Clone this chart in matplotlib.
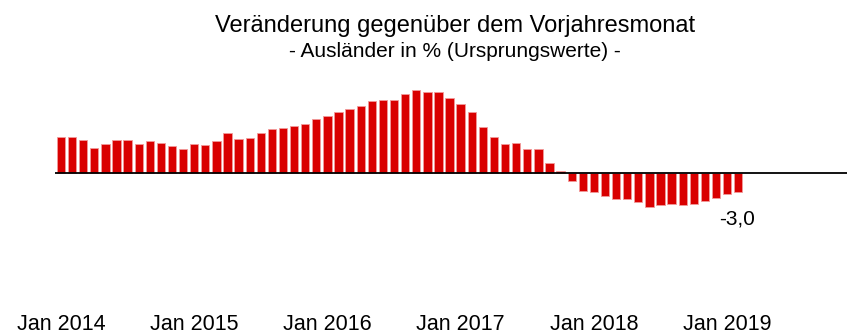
import numpy as np
import matplotlib
matplotlib.use("Agg")
import matplotlib.pyplot as plt

plt.rcParams["font.family"] = ["Liberation Sans", "DejaVu Sans"]

# Veränderung gegenüber Vorjahresmonat in %, Jan 2014 bis Feb 2019
werte_2014 = [5.8, 5.8, 5.3, 4.0, 4.7, 5.3, 5.3, 4.7, 5.1, 4.8, 4.4, 3.9]
werte_2015 = [4.7, 4.5, 5.1, 6.4, 5.5, 5.7, 6.5, 7.1, 7.2, 7.6, 7.9, 8.7]
werte_2016 = [9.2, 9.8, 10.3, 10.8, 11.6, 11.7, 11.8, 12.8, 13.4, 13.0, 13.0, 12.1]
werte_2017 = [11.1, 9.8, 7.5, 5.8, 4.7, 4.9, 3.9, 3.9, 1.7, 0.4, -1.3, -2.8]
werte_2018 = [-3.1, -3.6, -4.1, -4.1, -4.7, -5.5, -5.2, -5.0, -5.1, -4.9, -4.5, -4.0]
werte_2019 = [-3.3, -3.0]

werte = werte_2014 + werte_2015 + werte_2016 + werte_2017 + werte_2018 + werte_2019
tick_labels = ["Jan 2014", "Jan 2015", "Jan 2016", "Jan 2017", "Jan 2018", "Jan 2019"]

x = np.arange(len(werte))

fig = plt.figure(figsize=(8.47, 3.35), dpi=100)
ax = fig.add_axes([55 / 847, 35 / 335, 792 / 847, 240 / 335])

ax.bar(x, werte, width=0.75, color="#d90000", edgecolor="#f29a9a", linewidth=0.6)
ax.axhline(0, color="black", linewidth=1.3)

# letzter Wert beschriftet
ax.annotate(f"{werte[-1]:.1f}".replace(".", ","), xy=(x[-1], werte[-1]),
            xytext=(-1, -19.5), textcoords="offset points",
            ha="center", va="center", fontsize=15)

ax.set_xlim(-0.54, 70.8)
ax.set_ylim(-20.4, 18.2)
ax.set_xticks(x[::12])
ax.set_xticklabels(tick_labels, fontsize=15.5)
ax.tick_params(axis="x", length=0, pad=10)
ax.set_yticks([])
for s in ax.spines.values():
    s.set_visible(False)

fig.text(455 / 847, 1 - 32 / 335, "Veränderung gegenüber dem Vorjahresmonat",
         ha="center", va="baseline", fontsize=17)
fig.text(455 / 847, 1 - 57 / 335, "- Ausländer in % (Ursprungswerte) -",
         ha="center", va="baseline", fontsize=15)

fig.savefig("out.png", dpi=100)
